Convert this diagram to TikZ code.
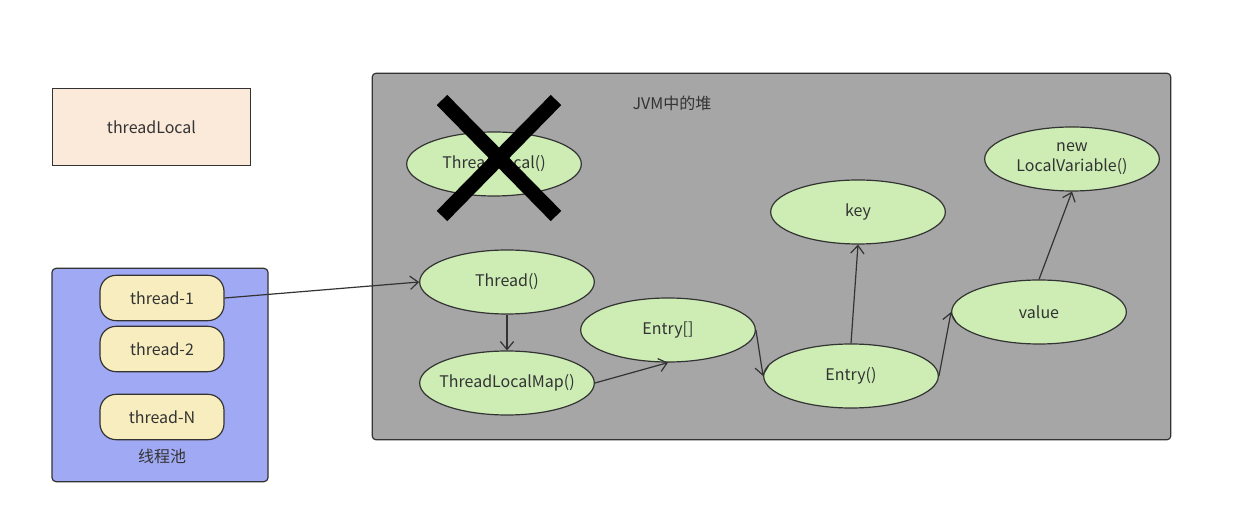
\documentclass[tikz,border=0pt]{standalone}
\usepackage{fontspec}
\setmainfont{Noto Sans CJK SC}
\usetikzlibrary{shapes.geometric,arrows.meta}
\definecolor{tlfill}{HTML}{FBE9DA}
\definecolor{poolfill}{HTML}{A0A9F3}
\definecolor{thfill}{HTML}{F7EDBF}
\definecolor{jvmfill}{HTML}{A6A6A6}
\definecolor{elfill}{HTML}{CDEDB5}
\definecolor{ln}{HTML}{333333}
\begin{document}
\begin{tikzpicture}[x=0.75pt,y=-0.75pt,
  every node/.style={font=\fontsize{12pt}{14pt}\selectfont,text=ln},
  ell/.style={ellipse,draw=ln,line width=0.9pt,fill=elfill,minimum width=131pt,minimum height=48pt,inner xsep=-12pt,inner ysep=-4pt,align=center},
  pill/.style={rectangle,rounded corners=12pt,draw=ln,line width=0.9pt,fill=thfill,minimum width=93pt,minimum height=34pt},
  arr/.style={draw=ln,line width=0.9pt,-{Straight Barb[length=6pt,width=10pt]}}]
\useasboundingbox (0,0) rectangle (1260,530);
\node[draw=ln,line width=0.9pt,fill=tlfill,minimum width=149pt,minimum height=58pt] (tl) at (151.5,127) {threadLocal};
\node[draw=ln,line width=0.9pt,fill=poolfill,rounded corners=3pt,minimum width=162pt,minimum height=160pt] (pool) at (160,375) {};
\node[pill] (t1) at (162,298) {thread-1};
\node[pill] (t2) at (162,349) {thread-2};
\node[pill] (tn) at (162,417) {thread-N};
\node (pl) at (162,456) {线程池};
\node[draw=ln,line width=0.9pt,fill=jvmfill,rounded corners=3pt,minimum width=599pt,minimum height=275pt] (jvm) at (771.5,256.5) {};
\node (jl) at (672,103) {JVM中的堆};
\node[ell] (tlo) at (494,164) {ThreadLocal()};
\draw[line width=11pt,black] (442,100) -- (556,216);
\draw[line width=11pt,black] (556,100) -- (442,216);
\node[ell] (th) at (507,282) {Thread()};
\node[ell] (tlm) at (507,383) {ThreadLocalMap()};
\node[ell] (ea) at (668,330) {Entry[]};
\node[ell] (en) at (851,376) {Entry()};
\node[ell] (key) at (858,212) {key};
\node[ell] (val) at (1039,312) {value};
\node[ell] (nlv) at (1072,159) {new\\[1pt]LocalVariable()};
\draw[arr] (t1.east) -- (th.west);
\draw[arr] (th.south) -- (tlm.north);
\draw[arr] (tlm.east) -- (ea.south);
\draw[arr] (ea.east) -- (en.west);
\draw[arr] (en.north) -- (key.south);
\draw[arr] (en.east) -- (val.west);
\draw[arr] (val.north) -- (nlv.south);
\end{tikzpicture}
\end{document}
